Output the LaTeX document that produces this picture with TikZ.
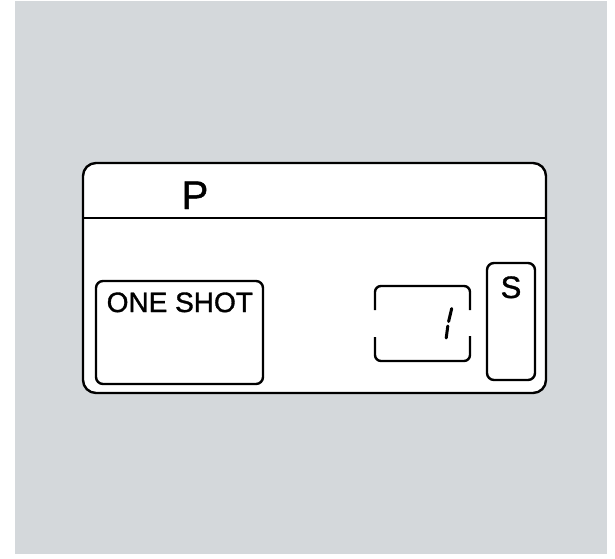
\documentclass[tikz,border=0pt]{standalone}
\usepackage{fontspec}
\setmainfont[AutoFakeBold=1.2]{Liberation Sans}
\usepackage{tikz}
\usetikzlibrary{positioning}
\definecolor{bggray}{RGB}{212,216,219}

\begin{document}
\begin{tikzpicture}[x=1pt, y=-1pt, line width=2.4pt,
    win/.style={draw, rounded corners=7pt},
    lcdtext/.style={inner sep=0pt, font=\fontsize{#1}{#1}\selectfont\bfseries}]
    \useasboundingbox (0,0) rectangle (615,558);
    % Background
    \fill[bggray] (15,1) rectangle (607,554);

    % Display panel
    \draw[fill=white, rounded corners=13pt] (83,163) rectangle (546,393);
    \draw[line width=2pt] (84,218) -- (545,218);

    % Mode letter
    \node[lcdtext=40, anchor=base] (mode) at (195,209) {P};

    % Drive mode window
    \draw[win] (96,281) rectangle (263,384);
    \node[lcdtext=28, anchor=base west] (drive) at (105.5,312) {ONE SHOT};

    % Frame counter (open at the sides)
    \draw[rounded corners=6pt] (375,310) -- (375,286) -- (470,286) -- (470,310);
    \draw[rounded corners=6pt] (375,337) -- (375,361) -- (470,361) -- (470,336);
    \draw[line width=3pt, line cap=round] (451.7,308.5) -- (448.6,321.5);
    \draw[line width=3pt, line cap=round] (447.8,326) -- (446.2,338);

    % Self-timer window
    \draw[win] (487,263) rectangle (535,380);
    \node[lcdtext=31, anchor=base] (timer) at (511,298) {S};
\end{tikzpicture}
\end{document}
